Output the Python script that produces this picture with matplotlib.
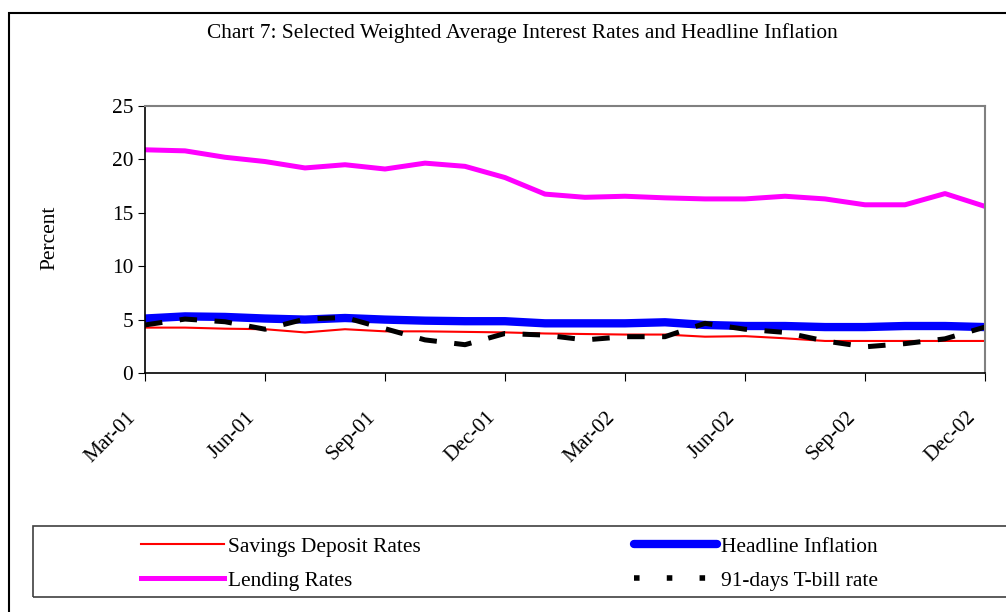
import numpy as np
import matplotlib.pyplot as plt
import matplotlib.transforms as mtrans
from matplotlib.patches import Rectangle
from matplotlib.lines import Line2D

plt.rcParams['font.family'] = ['Liberation Serif', 'DejaVu Serif']

months = ['Mar-01', 'Apr-01', 'May-01', 'Jun-01', 'Jul-01', 'Aug-01', 'Sep-01', 'Oct-01',
          'Nov-01', 'Dec-01', 'Jan-02', 'Feb-02', 'Mar-02', 'Apr-02', 'May-02', 'Jun-02',
          'Jul-02', 'Aug-02', 'Sep-02', 'Oct-02', 'Nov-02', 'Dec-02']
savings = [4.25, 4.25, 4.15, 4.1, 3.8, 4.1, 3.9, 3.9, 3.85, 3.8, 3.7, 3.65,
           3.6, 3.6, 3.4, 3.45, 3.25, 3.0, 3.0, 3.0, 3.0, 3.0]
inflation = [5.1, 5.3, 5.25, 5.1, 5.0, 5.15, 5.0, 4.9, 4.85, 4.85, 4.65, 4.65,
             4.65, 4.75, 4.5, 4.4, 4.4, 4.3, 4.3, 4.4, 4.4, 4.3]
lending = [20.9, 20.8, 20.2, 19.8, 19.2, 19.5, 19.1, 19.65, 19.35, 18.3, 16.75, 16.45,
           16.55, 16.4, 16.3, 16.3, 16.55, 16.3, 15.75, 15.75, 16.8, 15.6]
tbill = [4.5, 5.05, 4.8, 4.1, 5.05, 5.2, 4.15, 3.1, 2.65, 3.7, 3.55, 3.1,
         3.4, 3.4, 4.65, 4.1, 3.8, 3.0, 2.45, 2.75, 3.2, 4.3]

x = np.arange(len(months))
fs = 15.4

fig = plt.figure(figsize=(10.06, 6.12), dpi=100)
ax = fig.add_axes([145/1006, 1-373/612, 840/1006, 267/612])

l1, = ax.plot(x, savings, color='#ff0000', lw=1.5, label='Savings Deposit Rates')
l2, = ax.plot(x, lending, color='#ff00ff', lw=3.6, label='Lending Rates')
l3, = ax.plot(x, inflation, color='#0000ff', lw=6, solid_capstyle='round', label='Headline Inflation')
l4, = ax.plot(x, tbill, color='black', lw=3.6, dashes=(3.5, 3.5), label='91-days T-bill rate')

ax.set_xlim(0, len(months)-1)
ax.set_ylim(0, 25)
ax.set_yticks([0, 5, 10, 15, 20, 25])
ax.set_xticks(x[::3])
ax.set_xticklabels(months[::3], rotation=45, ha='right', va='top', rotation_mode='anchor')
ax.tick_params(direction='out', length=5, labelsize=fs, colors='black')
ax.tick_params(axis='x', length=6, pad=19)
shift = mtrans.ScaledTranslation(-19/100, 0, fig.dpi_scale_trans)
for lab in ax.get_xticklabels():
    lab.set_transform(lab.get_transform() + shift)
for s in ['top', 'right']:
    ax.spines[s].set_color('#808080')
    ax.spines[s].set_linewidth(1.5)
for s in ['left', 'bottom']:
    ax.spines[s].set_linewidth(1.2)

fig.text(522/1006, 1-33/612, 'Chart 7: Selected Weighted Average Interest Rates and Headline Inflation',
         ha='center', va='center', fontsize=fs)
fig.text(50/1006, 1-238/612, 'Percent', rotation=90, ha='center', va='center', fontsize=fs)

fig.patches.append(Rectangle((9/1006, -0.1), 1.2, (612-13)/612+0.1, transform=fig.transFigure,
                             fill=False, edgecolor='black', lw=1.5, clip_on=False))
fig.patches.append(Rectangle((33/1006, 1-597/612), 1.2, 71/612, transform=fig.transFigure,
                             fill=False, edgecolor='#404040', lw=1.2, clip_on=False))

# legend shows the T-bill line as square dots
tb_handle = Line2D([], [], color='black', lw=4, dashes=(1, 4.9))
fig.legend([l1, l2, l3, tb_handle], [l.get_label() for l in [l1, l2, l3, l4]], ncol=2,
           loc='upper left', bbox_to_anchor=(141/1006, 1-537/612), frameon=False,
           fontsize=fs, handlelength=3.88, handletextpad=0.19, columnspacing=9.95,
           labelspacing=0.64, borderpad=0, borderaxespad=0)

fig.savefig('out.png', dpi=100)
